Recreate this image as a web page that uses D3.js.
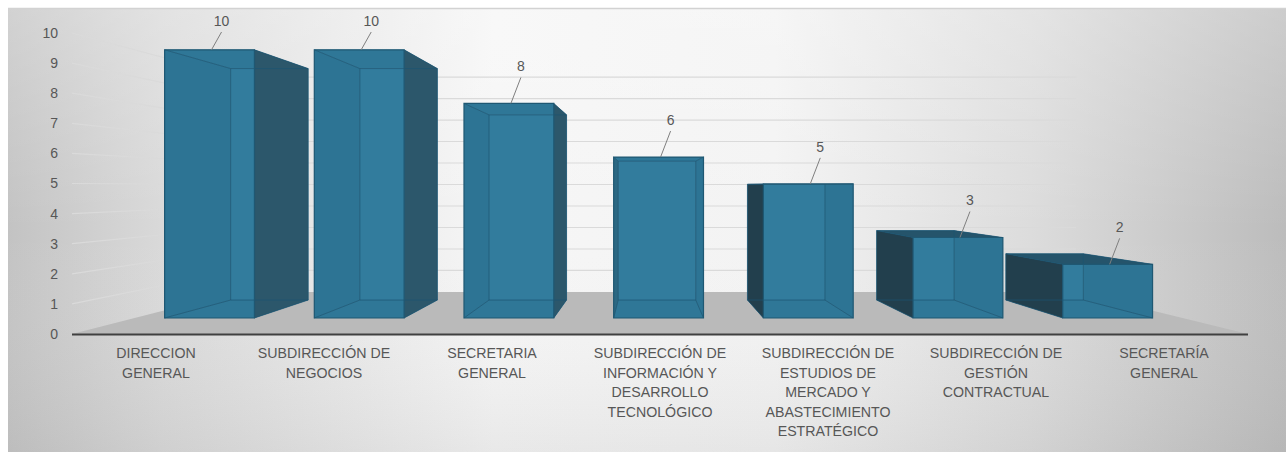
<!DOCTYPE html>
<html>
<head>
<meta charset="utf-8">
<script src="https://cdn.jsdelivr.net/npm/d3@7"></script>
<style>
  html, body { margin: 0; padding: 0; background: #ffffff; }
  svg { display: block; }
  text { font-family: "Liberation Sans", Arial, sans-serif; fill: #575757; }
</style>
</head>
<body>
<svg id="chart" width="1286" height="453"></svg>
<script>
// ---- data ----
const categories = [
  "DIRECCION GENERAL",
  "SUBDIRECCIÓN DE NEGOCIOS",
  "SECRETARIA GENERAL",
  "SUBDIRECCIÓN DE INFORMACIÓN Y DESARROLLO TECNOLÓGICO",
  "SUBDIRECCIÓN DE ESTUDIOS DE MERCADO Y ABASTECIMIENTO ESTRATÉGICO",
  "SUBDIRECCIÓN DE GESTIÓN CONTRACTUAL",
  "SECRETARÍA GENERAL"
];
const values = [10, 10, 8, 6, 5, 3, 2];
const categoryLabelLines = [
  ["DIRECCION", "GENERAL"],
  ["SUBDIRECCIÓN DE", "NEGOCIOS"],
  ["SECRETARIA", "GENERAL"],
  ["SUBDIRECCIÓN DE", "INFORMACIÓN Y", "DESARROLLO", "TECNOLÓGICO"],
  ["SUBDIRECCIÓN DE", "ESTUDIOS DE", "MERCADO Y", "ABASTECIMIENTO", "ESTRATÉGICO"],
  ["SUBDIRECCIÓN DE", "GESTIÓN", "CONTRACTUAL"],
  ["SECRETARÍA", "GENERAL"]
];
const yTicks = [0, 1, 2, 3, 4, 5, 6, 7, 8, 9, 10];

// ---- layout / projection ----
const svg = d3.select("#chart");
const W = 1286, H = 453;

const x = d3.scaleBand().domain(categories).range([72, 1248]).paddingInner(0.4).paddingOuter(0.2);
const y = d3.scaleLinear().domain([0, 10]).range([334, 33]);

const VX = 647, VY = 187;            // vanishing point
const K_WALL = 0.714;                // back wall depth factor
const K_BAR_FRONT = 0.891, K_BAR_BACK = 0.769;
function P(xw, yw, k) { return [VX + k * (xw - VX), VY + k * (yw - VY)]; }

const defs = svg.append("defs");
const bg = defs.append("linearGradient").attr("id", "bgH").attr("x1", 0).attr("x2", 1).attr("y1", 0).attr("y2", 0);
[[0, "#c3c3c3"], [0.12, "#d9d9d9"], [0.38, "#f6f6f6"], [0.6, "#f3f3f3"], [0.8, "#dcdcdc"], [1, "#bcbcbc"]]
  .forEach(([o, c]) => bg.append("stop").attr("offset", o).attr("stop-color", c));
const bgV = defs.append("linearGradient").attr("id", "bgV").attr("x1", 0).attr("x2", 0).attr("y1", 0).attr("y2", 1);
[[0, "#ffffff", 0.25], [0.5, "#ffffff", 0], [1, "#9a9a9a", 0.15]]
  .forEach(([o, c, a]) => bgV.append("stop").attr("offset", o).attr("stop-color", c).attr("stop-opacity", a));

// background panel
svg.append("rect").attr("x", 8).attr("y", 8).attr("width", W - 8).attr("height", 444).attr("fill", "url(#bgH)");
svg.append("rect").attr("x", 8).attr("y", 8).attr("width", W - 8).attr("height", 444).attr("fill", "url(#bgV)");
svg.append("line").attr("x1", 8).attr("x2", W).attr("y1", 8.5).attr("y2", 8.5).attr("stroke", "#d2d2d2").attr("stroke-width", 1.5);

const [x0, x1] = x.range();

// gridlines: left wall + back wall
const grid = svg.append("g").attr("stroke", "#dadada").attr("stroke-width", 1.2).attr("fill", "none");
yTicks.filter(v => v > 0).forEach(v => {
  const a = P(x0, y(v), 1), b = P(x0, y(v), K_WALL), c = P(x1, y(v), K_WALL);
  grid.append("path").attr("d", `M${a[0]},${a[1]}L${b[0]},${b[1]}L${c[0]},${c[1]}`);
});

// floor
const f1 = P(x0, y(0), 1), f2 = P(x1, y(0), 1), f3 = P(x1, y(0), K_WALL), f4 = P(x0, y(0), K_WALL);
svg.append("path").attr("d", `M${f1}L${f2}L${f3}L${f4}Z`).attr("fill", "#bababa");

// y tick labels
svg.append("g").selectAll("text").data(yTicks).join("text")
  .attr("x", 58).attr("y", d => y(d)).attr("dy", "0.35em")
  .attr("text-anchor", "end").attr("font-size", 14).text(d => d);

// bars
const barsG = svg.append("g");
const poly = pts => "M" + pts.map(p => p.join(",")).join("L") + "Z";
categories.forEach((cat, i) => {
  const v = values[i];
  const xl = x(cat), xr = x(cat) + x.bandwidth();
  const yt = y(v), yb = y(0);
  const FTL = P(xl, yt, K_BAR_FRONT), FTR = P(xr, yt, K_BAR_FRONT), FBL = P(xl, yb, K_BAR_FRONT), FBR = P(xr, yb, K_BAR_FRONT);
  const BTL = P(xl, yt, K_BAR_BACK), BTR = P(xr, yt, K_BAR_BACK), BBL = P(xl, yb, K_BAR_BACK), BBR = P(xr, yb, K_BAR_BACK);
  const g = barsG.append("g");
  const cx = (xl + xr) / 2;
  const leftOfV = cx < VX - 5, rightOfV = cx > VX + 5;
  const topVisible = BTL[1] < FTL[1] - 0.5;
  // back face
  g.append("path").attr("d", poly([BTL, BTR, BBR, BBL])).attr("fill", "#3c87a9");
  // hidden bottom face
  g.append("path").attr("d", poly([FBL, FBR, BBR, BBL])).attr("fill", "#2f7293");
  // hidden top face
  if (!topVisible) g.append("path").attr("d", poly([FTL, FTR, BTR, BTL])).attr("fill", "#2f7293");
  // hidden side face (seen through the front)
  if (leftOfV) g.append("path").attr("d", poly([FTL, BTL, BBL, FBL])).attr("fill", "#2a6989");
  if (rightOfV) g.append("path").attr("d", poly([FTR, BTR, BBR, FBR])).attr("fill", "#2a6989");
  // visible side faces
  if (leftOfV) g.append("path").attr("d", poly([FTR, BTR, BBR, FBR])).attr("fill", "#2c576b");
  if (rightOfV) g.append("path").attr("d", poly([FTL, BTL, BBL, FBL])).attr("fill", "#223f4d");
  // top face if visible
  if (topVisible) g.append("path").attr("d", poly([FTL, FTR, BTR, BTL])).attr("fill", "#25546b");
  // front face (semi transparent)
  g.append("path").attr("d", poly([FTL, FTR, FBR, FBL])).attr("fill", "#2f7898").attr("fill-opacity", 0.72);
  // hidden edges
  const he = g.append("g").attr("stroke", "#1c5470").attr("stroke-opacity", 0.7).attr("stroke-width", 1).attr("fill", "none");
  he.append("path").attr("d", poly([BTL, BTR, BBR, BBL]));
  [[FTL, BTL], [FTR, BTR], [FBL, BBL], [FBR, BBR]].forEach(([a, b]) =>
    he.append("line").attr("x1", a[0]).attr("y1", a[1]).attr("x2", b[0]).attr("y2", b[1]));
  // front outline
  g.append("path").attr("d", poly([FTL, FTR, FBR, FBL])).attr("fill", "none").attr("stroke", "#1f5873").attr("stroke-width", 1.2);

  // data label with leader line
  const tcx = (FTL[0] + FTR[0]) / 2, tcy = FTL[1];
  const lx = tcx + 12, ly = Math.max(21, tcy - 37);
  svg.append("line").attr("x1", lx).attr("y1", ly + 11).attr("x2", tcx + 2).attr("y2", tcy)
    .attr("stroke", "#7f7f7f").attr("stroke-width", 1);
  svg.append("text").attr("x", lx).attr("y", ly).attr("dy", "0.35em").attr("text-anchor", "middle")
    .attr("font-size", 14).text(v);
});

// x axis line
svg.append("line").attr("x1", x0).attr("x2", x1).attr("y1", y(0) + 0.5).attr("y2", y(0) + 0.5)
  .attr("stroke", "#404040").attr("stroke-width", 2);

// category labels
const lab = svg.append("g");
categories.forEach((cat, i) => {
  const t = lab.append("text").attr("text-anchor", "middle").attr("font-size", 14.2);
  categoryLabelLines[i].forEach((ln, j) => {
    t.append("tspan").attr("x", x(cat) + x.bandwidth() / 2).attr("y", 358 + j * 19.6).text(ln);
  });
});
</script>
</body>
</html>
